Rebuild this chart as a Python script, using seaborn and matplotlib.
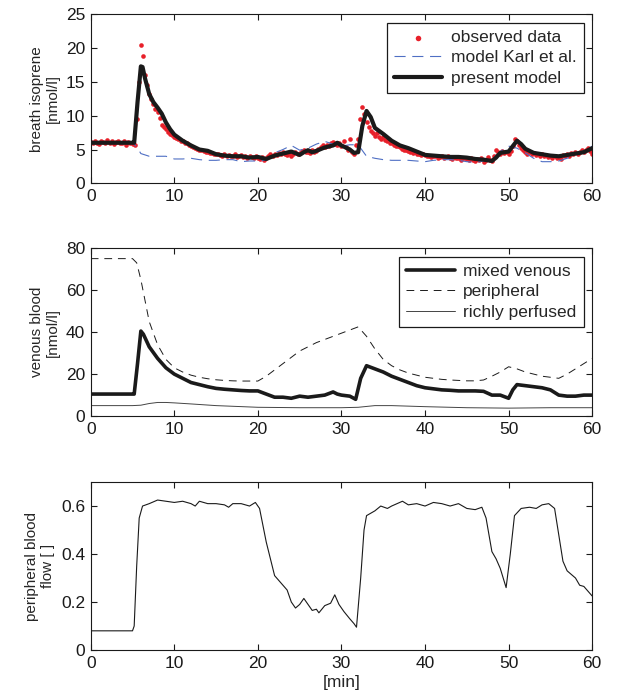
import numpy as np
import pandas as pd
import matplotlib
matplotlib.use('Agg')
import matplotlib.pyplot as plt
from matplotlib.ticker import FuncFormatter
import seaborn as sns

# --- Panel 1: breath isoprene [nmol/l] ---
# observed data, one sample every 0.25 min from 0 to 60
obs_t = np.arange(0, 60.01, 0.25)
obs_y = [
    6.1, 5.9, 6.2, 6.0, 5.8, 6.3, 6.1, 5.9, 6.4, 6.0, 6.2, 5.8, 6.1, 6.3, 5.9, 6.0, 6.2, 5.7, 6.1, 5.9,
    5.8, 5.6, 9.5, 15.0, 20.4, 18.8, 16.0, 14.5, 13.2, 12.4, 11.8, 11.0, 10.5, 9.6, 8.6, 8.4, 8.0, 7.6, 7.3, 7.1,
    6.9, 6.7, 6.5, 6.3, 6.2, 6.0, 5.9, 5.6, 5.5, 5.3, 5.2, 5.1, 5.0, 4.9, 4.8, 4.7, 4.6, 4.5, 4.5, 4.4,
    4.3, 4.4, 4.2, 4.1, 4.3, 4.0, 4.2, 4.1, 4.0, 4.3, 3.9, 4.1, 4.2, 3.9, 4.0, 3.8, 4.1, 3.9, 3.7, 4.0,
    3.8, 3.6, 3.9, 3.5, 3.7, 4.0, 4.3, 4.1, 4.4, 4.2, 4.5, 4.3, 4.6, 4.4, 4.2, 4.5, 4.1, 4.4, 4.6, 4.3,
    4.5, 4.8, 5.0, 4.6, 4.7, 4.5, 4.9, 4.6, 4.8, 5.1, 5.3, 5.6, 5.4, 5.7, 5.5, 5.9, 6.1, 5.8, 5.6, 5.9,
    5.5, 6.2, 5.3, 5.0, 6.6, 4.6, 4.4, 5.6, 6.5, 9.5, 11.3, 10.2, 9.0, 8.3, 7.8, 7.4, 7.0, 7.5, 6.9, 6.6,
    6.8, 6.4, 6.2, 6.0, 5.9, 5.7, 5.5, 5.5, 5.3, 5.1, 5.0, 4.9, 4.8, 4.6, 4.5, 4.6, 4.4, 4.3, 4.2, 4.3,
    4.2, 4.0, 4.1, 3.9, 4.0, 4.1, 3.8, 3.9, 4.0, 3.7, 3.9, 4.0, 3.8, 3.6, 3.9, 3.7, 3.8, 3.5, 3.7, 3.8,
    3.6, 3.4, 3.7, 3.5, 3.3, 3.6, 3.4, 3.7, 3.2, 3.5, 3.9, 3.4, 3.3, 4.0, 5.0, 4.6, 4.4, 4.8, 4.5, 4.6,
    4.4, 4.8, 5.5, 6.5, 6.3, 5.7, 5.2, 4.9, 4.7, 4.4, 4.6, 4.3, 4.5, 4.2, 4.4, 4.1, 4.3, 4.0, 4.2, 3.9,
    4.1, 3.8, 4.0, 3.7, 3.9, 3.6, 4.2, 4.0, 4.4, 4.1, 4.5, 4.3, 4.6, 4.4, 4.7, 4.9, 4.6, 5.0, 5.2, 4.8,
    4.3,
]

karl_t = [0, 5, 5.5, 6, 7, 8, 9, 10, 11, 12, 13, 14, 15, 16, 17, 18, 19, 20, 21, 22, 23, 24, 25,
          26, 27, 28, 29, 30, 31, 32, 33, 34, 35, 36, 37, 38, 39, 40, 41, 42, 43, 44, 45, 46, 47,
          48, 49, 50, 51, 52, 53, 54, 55, 56, 57, 58, 59, 60]
karl_y = [6.0, 6.0, 5.4, 4.4, 4.0, 4.0, 4.0, 3.6, 3.6, 3.7, 3.5, 3.4, 3.4, 3.5, 3.5, 3.2, 3.3, 3.3,
          3.4, 4.5, 5.0, 5.6, 4.9, 5.2, 5.8, 6.2, 5.8, 5.5, 5.7, 5.7, 4.0, 3.7, 3.5, 3.4, 3.4, 3.4,
          3.3, 3.2, 3.4, 3.5, 3.5, 3.4, 3.2, 3.1, 3.3, 3.5, 4.7, 5.5, 5.2, 4.5, 3.7, 3.2, 3.2, 3.3,
          3.7, 4.3, 4.8, 5.5]

model_t = [0, 5, 5.2, 5.6, 6.0, 6.2, 6.5, 7, 7.5, 8, 8.5, 9, 9.5, 10, 11, 12, 13, 14, 15, 16, 17,
           18, 19, 20, 21, 22, 23, 24, 25, 25.5, 26, 26.5, 27, 28, 29, 29.5, 30, 31, 31.5, 32, 32.5,
           33, 33.5, 34, 35, 36, 37, 38, 39, 40, 41, 42, 43, 44, 45, 46, 47, 48, 48.5, 49, 50, 50.5,
           51, 51.5, 52, 53, 54, 55, 56, 57, 58, 59, 60]
model_y = [6.0, 6.0, 6.0, 12.0, 17.3, 17.2, 15.5, 13.2, 12.0, 11.2, 10.3, 9.0, 8.0, 7.2, 6.3, 5.6,
           5.0, 4.8, 4.3, 4.1, 4.0, 4.0, 3.8, 3.9, 3.6, 4.1, 4.4, 4.7, 4.2, 4.6, 4.9, 4.6, 4.8, 5.3,
           5.6, 6.0, 5.6, 5.0, 4.5, 4.6, 8.5, 10.7, 9.8, 8.2, 7.3, 6.3, 5.6, 5.2, 4.7, 4.2, 4.1, 4.0,
           3.9, 3.9, 3.8, 3.6, 3.5, 3.3, 3.8, 4.5, 4.7, 5.5, 6.3, 5.8, 5.1, 4.5, 4.3, 4.1, 4.0, 4.2,
           4.4, 4.6, 5.2]

# --- Panel 2: venous blood [nmol/l] ---
mixed_t = [0, 5, 5.2, 5.6, 6.0, 6.3, 7, 8, 9, 10, 11, 12, 13, 14, 15, 16, 17, 18, 19, 20, 21, 22,
           23, 24, 25, 26, 27, 28, 29, 29.5, 30, 31, 31.7, 32.3, 33, 34, 35, 36, 37, 38, 39, 40, 41,
           42, 43, 44, 45, 46, 47, 48, 49, 50, 50.5, 51, 52, 53, 54, 55, 56, 57, 58, 59, 60]
mixed_y = [10.5, 10.5, 10.5, 25, 40.5, 39, 33, 27.5, 23, 20, 18, 16, 15, 14, 13.2, 12.8, 12.5, 12.2,
           12, 12, 10.5, 9, 9, 8.5, 9.5, 9, 9.5, 10, 11.5, 10.5, 10, 9.5, 8, 18, 24, 22.5, 21, 19,
           17.5, 16, 14.5, 13.5, 13, 12.5, 12.3, 12, 12, 12, 11.8, 10, 10, 8.5, 12.5, 15, 14.5, 14,
           13.5, 12.5, 10, 9.5, 9.5, 10, 10]

periph_t = [0, 5, 5.5, 6, 6.5, 7, 8, 9, 10, 11, 12, 13, 14, 15, 16, 17, 18, 19, 20, 21, 22, 23, 24,
            25, 26, 27, 28, 29, 30, 31, 32, 33, 34, 35, 36, 37, 38, 39, 40, 41, 42, 43, 44, 45, 46,
            47, 48, 49, 50, 51, 52, 53, 54, 55, 56, 57, 58, 59, 60]
periph_y = [75, 75, 73, 65, 55, 45, 34, 27, 23, 21, 19.5, 18.5, 17.8, 17.3, 17, 16.8, 16.7, 16.7,
            16.7, 19, 22, 25, 28, 31, 33, 35, 36.5, 38, 39.5, 41, 42.5, 38, 32, 27, 24, 22, 20.5,
            19.5, 18.5, 18, 17.5, 17.2, 17, 16.8, 16.8, 17.2, 19, 21, 23.5, 22.5, 21, 20, 19, 18.5,
            18, 20, 22.5, 25, 27.5]

rich_t = [0, 5, 6, 7, 8, 9, 10, 12, 15, 20, 25, 30, 32, 34, 36, 40, 45, 50, 55, 60]
rich_y = [5, 5, 5.2, 6, 6.5, 6.5, 6.3, 5.8, 5, 4.2, 4, 4, 4.2, 5, 5, 4.5, 4, 3.8, 4, 4]

# --- Panel 3: peripheral blood flow [ ] ---
flow_t = [0, 5, 5.2, 5.5, 5.8, 6.2, 7, 8, 9, 10, 11, 12, 12.5, 13, 14, 15, 16, 16.5, 17, 18, 19,
          19.7, 20.2, 21, 21.5, 22, 23, 23.5, 24, 24.5, 25, 25.5, 26, 26.5, 27, 27.3, 28, 28.7, 29.2,
          29.7, 30.3, 31, 31.5, 31.8, 32.3, 32.7, 33, 34, 34.7, 35.5, 36, 37.3, 38, 39, 40, 41, 42,
          43, 44, 45, 46, 46.8, 47.3, 48, 48.5, 49, 49.7, 50.2, 50.7, 51.5, 52.5, 53.3, 54, 54.8,
          55.5, 56, 56.5, 57, 58, 58.5, 59, 60]
flow_y = [0.08, 0.08, 0.10, 0.35, 0.55, 0.60, 0.61, 0.625, 0.62, 0.615, 0.62, 0.61, 0.60, 0.62,
          0.61, 0.61, 0.605, 0.595, 0.61, 0.61, 0.60, 0.615, 0.59, 0.45, 0.38, 0.31, 0.27, 0.25,
          0.20, 0.175, 0.19, 0.215, 0.19, 0.165, 0.17, 0.155, 0.185, 0.195, 0.23, 0.19, 0.16, 0.13,
          0.11, 0.095, 0.30, 0.50, 0.56, 0.58, 0.60, 0.59, 0.60, 0.62, 0.605, 0.61, 0.60, 0.615,
          0.61, 0.60, 0.61, 0.59, 0.585, 0.595, 0.55, 0.41, 0.38, 0.34, 0.26, 0.40, 0.56, 0.59,
          0.595, 0.59, 0.605, 0.61, 0.59, 0.48, 0.37, 0.33, 0.30, 0.27, 0.265, 0.225]

xticks = [0, 10, 20, 30, 40, 50, 60]

sns.set_style("ticks")
plt.rcParams['font.family'] = ['Liberation Sans', 'DejaVu Sans']
plt.rcParams['axes.linewidth'] = 0.8
plt.rcParams['xtick.direction'] = 'in'
plt.rcParams['ytick.direction'] = 'in'

fig = plt.figure(figsize=(6.3, 6.97), dpi=100)
left, width = 0.144, 0.796
ax1 = fig.add_axes([left, 0.737, width, 0.2425])
ax2 = fig.add_axes([left, 0.403, width, 0.241])
ax3 = fig.add_axes([left, 0.0674, width, 0.241])

# panel 1
sns.scatterplot(x=obs_t, y=obs_y, ax=ax1, color='#e8202a', s=11, linewidth=0,
                label='observed data', zorder=2)
sns.lineplot(x=karl_t, y=karl_y, ax=ax1, color='#4f6fc4', linewidth=0.8,
             linestyle=(0, (10, 6)), label='model Karl et al.', zorder=3)
sns.lineplot(x=model_t, y=model_y, ax=ax1, color='#1a1a1a', linewidth=3.0,
             label='present model', zorder=4)
ax1.set_ylim(0, 25)
ax1.set_yticks([0, 5, 10, 15, 20, 25])
ax1.set_ylabel('breath isoprene\n[nmol/l]')

# panel 2
sns.lineplot(x=mixed_t, y=mixed_y, ax=ax2, color='#1a1a1a', linewidth=2.6,
             label='mixed venous', zorder=4)
sns.lineplot(x=periph_t, y=periph_y, ax=ax2, color='#1a1a1a', linewidth=0.7,
             linestyle=(0, (8, 6)), label='peripheral', zorder=3)
sns.lineplot(x=rich_t, y=rich_y, ax=ax2, color='#444444', linewidth=0.7,
             label='richly perfused', zorder=2)
ax2.set_ylim(0, 80)
ax2.set_yticks([0, 20, 40, 60, 80])
ax2.set_ylabel('venous blood\n[nmol/l]')

# panel 3
sns.lineplot(x=flow_t, y=flow_y, ax=ax3, color='#1a1a1a', linewidth=0.8)
ax3.set_ylim(0, 0.7)
ax3.set_yticks([0, 0.2, 0.4, 0.6])
ax3.yaxis.set_major_formatter(FuncFormatter(lambda v, p: '0' if v == 0 else f'{v:.1f}'))
ax3.set_ylabel('peripheral blood\nflow [ ]')
ax3.set_xlabel('[min]', fontsize=12.5, labelpad=3)

for ax in (ax1, ax2, ax3):
    ax.set_xlim(0, 60)
    ax.set_xticks(xticks)
    ax.tick_params(which='both', top=True, right=True, length=4, width=0.8,
                   labelsize=12.5, pad=4, colors='#1a1a1a')
    ax.yaxis.label.set_size(11)
    for sp in ax.spines.values():
        sp.set_visible(True)
        sp.set_color('#1a1a1a')

leg_kw = dict(loc='upper right', fontsize=12.5, frameon=True, fancybox=False,
              edgecolor='#1a1a1a', framealpha=1, handlelength=2.8, borderpad=0.4,
              labelspacing=0.3, handletextpad=0.5, borderaxespad=0.5)
h1, l1 = ax1.get_legend_handles_labels()
lg1 = ax1.legend(h1, l1, markerscale=1.2, **leg_kw)
lg1.get_frame().set_linewidth(0.9)
h2, l2 = ax2.get_legend_handles_labels()
lg2 = ax2.legend(h2, l2, **leg_kw)
lg2.get_frame().set_linewidth(0.9)

fig.savefig('out.png', dpi=100)
